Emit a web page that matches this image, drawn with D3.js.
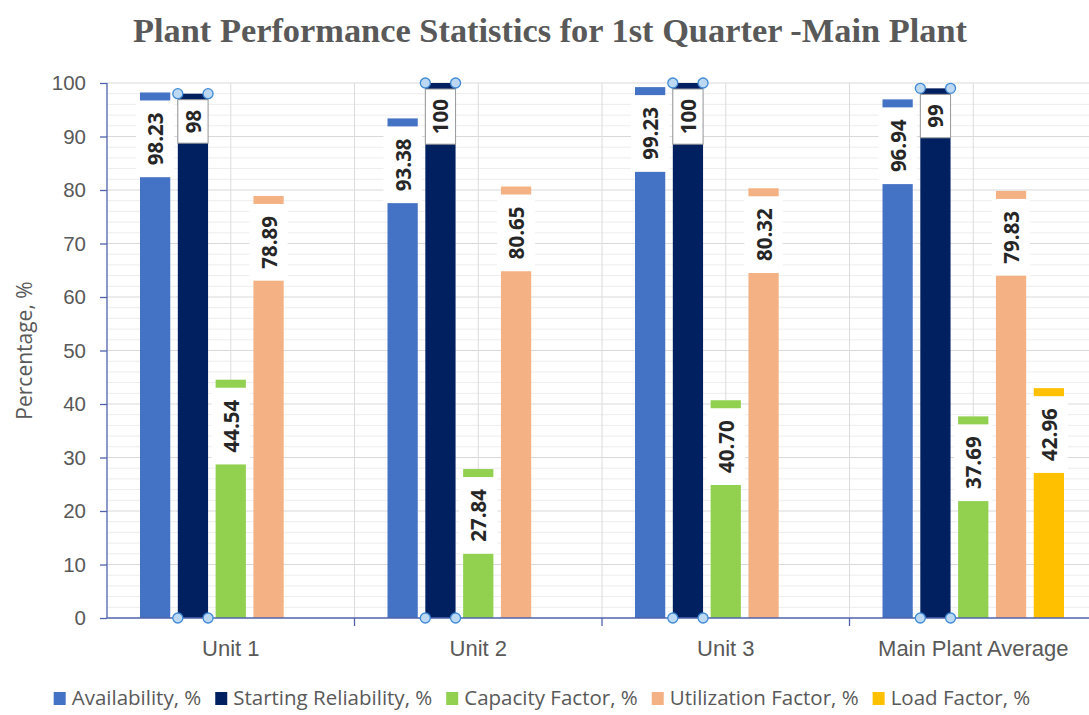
<!DOCTYPE html>
<html>
<head>
<meta charset="utf-8">
<style>
    body { margin: 0; background: #fff; }
    svg { display: block; font-family: 'Open Sans', sans-serif; }
    .grid-minor line { stroke: #ededed; stroke-width: 1; }
    .grid-major line { stroke: #d9d9d9; stroke-width: 1; }
    .grid-v line { stroke: #dcdcdc; stroke-width: 1; }
    .axis .domain { stroke: #4f63ad; stroke-width: 1.3; }
    .axis .tick line { stroke: #4f63ad; stroke-width: 1.3; }
    .axis .tick text { fill: #595959; font-size: 20.5px; }
    .x.axis .tick text { font-size: 22px; }
    .label text { font-weight: 700; font-size: 20.5px; fill: #262626; }
</style>
</head>
<body>
<svg width="1089" height="715"></svg>

<script src="https://d3js.org/d3.v7.min.js"></script>
<script>
    // data
    let categories = ["Unit 1", "Unit 2", "Unit 3", "Main Plant Average"]
    let seriesNames = ["Availability, %", "Starting Reliability, %", "Capacity Factor, %", "Utilization Factor, %", "Load Factor, %"]
    let availability = [98.23, 93.38, 99.23, 96.94]
    let startingReliability = [98, 100, 100, 99]
    let capacityFactor = [44.54, 27.84, 40.70, 37.69]
    let utilizationFactor = [78.89, 80.65, 80.32, 79.83]
    let loadFactor = [null, null, null, 42.96]
    let seriesColors = ["#4472c4", "#002060", "#92d050", "#f4b183", "#ffc000"]
    let decimals = [2, 0, 2, 2, 2]
    let yTicks = [0, 10, 20, 30, 40, 50, 60, 70, 80, 90, 100]

    let allSeries = [availability, startingReliability, capacityFactor, utilizationFactor, loadFactor]

    let svg = d3.select("svg")
    let margin = { top: 83, right: -8, bottom: 97, left: 107 }
    let width = 1089, height = 715

    let x0 = d3.scaleBand()
        .domain(categories)
        .range([margin.left, width - margin.right])
        .padding(0)

    let x1 = d3.scaleBand()
        .domain(seriesNames)
        .range([33, x0.bandwidth() - 33])
        .paddingInner(0.2)
        .paddingOuter(0)

    let y = d3.scaleLinear()
        .domain([0, 100])
        .range([height - margin.bottom, margin.top])

    // minor gridlines every 2
    svg.append("g").attr("class", "grid-minor")
        .selectAll("line")
        .data(d3.range(2, 100, 2).filter(v => v % 10 !== 0))
        .join("line")
        .attr("x1", margin.left).attr("x2", width)
        .attr("y1", d => y(d)).attr("y2", d => y(d))

    svg.append("g").attr("class", "grid-major")
        .selectAll("line")
        .data(yTicks.slice(1))
        .join("line")
        .attr("x1", margin.left).attr("x2", width)
        .attr("y1", d => y(d)).attr("y2", d => y(d))

    // vertical lines at category centres and boundaries
    let vLines = []
    categories.forEach(c => {
        vLines.push(x0(c) + x0.bandwidth() / 2)
        vLines.push(x0(c) + x0.bandwidth())
    })
    svg.append("g").attr("class", "grid-v")
        .selectAll("line")
        .data(vLines)
        .join("line")
        .attr("x1", d => d).attr("x2", d => d)
        .attr("y1", y(100)).attr("y2", y(0))

    // bars
    let rows = []
    categories.forEach((c, i) => {
        seriesNames.forEach((s, j) => {
            let v = allSeries[j][i]
            if (v !== null) rows.push({ cat: c, series: s, idx: j, value: v })
        })
    })

    svg.append("g").attr("class", "bars")
        .selectAll("rect")
        .data(rows)
        .join("rect")
        .attr("x", d => x0(d.cat) + x1(d.series))
        .attr("width", x1.bandwidth())
        .attr("y", d => y(d.value))
        .attr("height", d => y(0) - y(d.value))
        .attr("fill", d => seriesColors[d.idx])

    // axes
    let yAxis = svg.append("g")
        .attr("class", "axis y")
        .attr("transform", `translate(${margin.left},0)`)
        .call(d3.axisLeft(y).tickValues(yTicks).tickSize(7).tickPadding(14))
    yAxis.select(".domain").attr("d", `M0,${y(100)}V${y(0)}`)

    let xAxis = svg.append("g")
        .attr("class", "axis x")
        .attr("transform", `translate(0,${y(0)})`)
        .call(d3.axisBottom(x0).tickSize(0).tickPadding(22))
    xAxis.select(".domain").attr("d", `M${margin.left},0H${width}`)
    xAxis.selectAll(".cat-tick")
        .data(categories)
        .join("line")
        .attr("class", "cat-tick")
        .attr("x1", d => x0(d) + x0.bandwidth()).attr("x2", d => x0(d) + x0.bandwidth())
        .attr("y1", 0).attr("y2", 8)
        .attr("stroke", "#4f63ad").attr("stroke-width", 1.3)
    xAxis.selectAll(".tick text").attr("dy", "0.71em")

    // value labels in white boxes, rotated
    let labels = svg.append("g").attr("class", "label")
        .selectAll("g")
        .data(rows)
        .join("g")

    labels.each(function (d) {
        let g = d3.select(this)
        let bx = x0(d.cat) + x1(d.series)
        let bw = x1.bandwidth()
        let isSR = d.idx === 1
        let box = g.append("rect")
        let txt = g.append("text")
            .attr("text-anchor", "middle")
            .attr("dominant-baseline", "central")
            .text(d3.format(`.${decimals[d.idx]}f`)(d.value))
        let len = txt.node().getComputedTextLength()
        let top = y(d.value) + (isSR ? 6 : 8)
        let h = len + (isSR ? 20 : 24)
        let extra = isSR ? 0 : 4
        box.attr("x", bx - extra).attr("width", bw + extra * 2)
            .attr("y", top).attr("height", h)
            .attr("fill", "#fff")
            .attr("stroke", isSR ? "#9a9a9a" : "none")
        txt.attr("transform", `translate(${bx + bw / 2},${top + h / 2}) rotate(-90)`)
    })

    // selection handles on the starting reliability series
    let handles = []
    rows.filter(d => d.idx === 1).forEach(d => {
        let bx = x0(d.cat) + x1(d.series)
        ;[bx, bx + x1.bandwidth()].forEach(hx => {
            handles.push({ x: hx, y: y(d.value) })
            handles.push({ x: hx, y: y(0) })
        })
    })
    svg.append("g").selectAll("circle")
        .data(handles)
        .join("circle")
        .attr("cx", d => d.x).attr("cy", d => d.y)
        .attr("r", 5)
        .attr("fill", "#bcd8f2")
        .attr("stroke", "#3f8ad6")
        .attr("stroke-width", 1.3)

    // title
    svg.append("text")
        .attr("x", 550).attr("y", 42)
        .attr("text-anchor", "middle")
        .attr("font-family", "'Liberation Serif', serif")
        .attr("font-weight", 700)
        .attr("font-size", 34)
        .attr("fill", "#595959")
        .attr("textLength", 834)
        .attr("lengthAdjust", "spacingAndGlyphs")
        .text("Plant Performance Statistics for 1st Quarter -Main Plant")

    // y axis title
    svg.append("text")
        .attr("transform", `translate(32,${(y(0) + y(100)) / 2}) rotate(-90)`)
        .attr("text-anchor", "middle")
        .attr("font-size", 21)
        .attr("fill", "#595959")
        .text("Percentage, %")

    // legend
    let legend = svg.append("g").attr("font-size", 20.5).attr("fill", "#595959")
    let lx = 0
    let items = legend.selectAll("g")
        .data(seriesNames)
        .join("g")
    items.each(function (s, i) {
        let g = d3.select(this)
        g.append("rect").attr("x", 0).attr("y", -6).attr("width", 12).attr("height", 13)
            .attr("fill", seriesColors[i])
        let t = g.append("text").attr("x", 18).attr("dy", "0.35em").text(s)
        let w = t.node().getComputedTextLength()
        g.attr("transform", `translate(${lx},0)`)
        lx += 18 + w + 14
    })
    let total = lx - 14
    legend.attr("transform", `translate(${542 - total / 2},698)`)
</script>
</body>
</html>
